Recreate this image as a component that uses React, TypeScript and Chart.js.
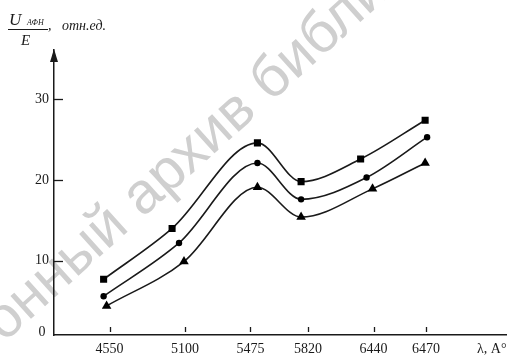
import React, { useEffect, useRef } from "react";
import { Chart, registerables } from "chart.js";

Chart.register(...registerables);

// Category tick labels (wavelengths, Å) and where each tick sits along the drawn axis
const categories = ["4550", "5100", "5475", "5820", "6440", "6470"];
const tickPositions = [5.6, 13.2, 19.8, 25.6, 32.2, 37.5];
const yTicks = [10, 20, 30];

// Series 1 (squares)
const squareX = [5.0, 11.9, 20.5, 24.9, 30.9, 37.4];
const squareY = [7.7, 14.0, 24.6, 19.8, 22.6, 27.4];
// Series 2 (circles)
const circleX = [5.0, 12.6, 20.5, 24.9, 31.5, 37.6];
const circleY = [5.6, 12.2, 22.1, 17.6, 20.3, 25.3];
// Series 3 (triangles)
const triangleX = [5.3, 13.1, 20.5, 24.9, 32.1, 37.4];
const triangleY = [4.4, 9.9, 19.1, 15.4, 18.9, 22.1];

const SERIF = "'Liberation Serif', 'DejaVu Serif', serif";
const INK = "#1a1a1a";

const pts = (xs: number[], ys: number[]) => xs.map((x, i) => ({ x, y: ys[i] }));

const decorations = {
  id: "decorations",
  beforeDraw(chart: any) {
    const ctx = chart.ctx as CanvasRenderingContext2D;
    // watermark
    ctx.save();
    ctx.fillStyle = "#cfcfcf";
    ctx.font = "58px 'Liberation Sans', Arial, sans-serif";
    ctx.translate(4, 343);
    ctx.rotate((-42 * Math.PI) / 180);
    const pre = "Электр";
    const off = ctx.measureText(pre).width;
    ctx.textBaseline = "alphabetic";
    ctx.fillText("Электронный архив библиотеки", -off, 0);
    ctx.restore();
  },
  afterDraw(chart: any) {
    const ctx = chart.ctx as CanvasRenderingContext2D;
    const { left, bottom } = chart.chartArea;
    const xs = chart.scales.x;
    const ys = chart.scales.y;
    ctx.save();
    ctx.strokeStyle = INK;
    ctx.fillStyle = INK;
    ctx.lineWidth = 1.3;
    // y tick marks (inside)
    yTicks.forEach((v) => {
      const y = Math.round(ys.getPixelForValue(v)) + 0.5;
      ctx.beginPath();
      ctx.moveTo(left, y);
      ctx.lineTo(left + 9, y);
      ctx.stroke();
    });
    // x tick marks (inside)
    tickPositions.forEach((v) => {
      const x = Math.round(xs.getPixelForValue(v)) + 0.5;
      ctx.beginPath();
      ctx.moveTo(x, bottom - 8);
      ctx.lineTo(x, bottom - 3);
      ctx.stroke();
    });
    // y-axis arrow head
    ctx.beginPath();
    ctx.moveTo(left, 49);
    ctx.lineTo(left - 4, 62);
    ctx.lineTo(left + 4, 62);
    ctx.closePath();
    ctx.fill();

    // origin label
    ctx.font = `14px ${SERIF}`;
    ctx.textAlign = "center";
    ctx.textBaseline = "middle";
    ctx.fillText("0", 42, 332);
    // x-axis title
    ctx.textAlign = "left";
    ctx.fillText("λ, A°", 477, 349);

    // y-axis title: U_АФН / E, отн.ед.
    ctx.textBaseline = "alphabetic";
    ctx.font = `italic 17px ${SERIF}`;
    ctx.fillText("U", 9, 25);
    ctx.font = `italic 8px ${SERIF}`;
    ctx.fillText("АФН", 27, 25);
    ctx.lineWidth = 1;
    ctx.beginPath();
    ctx.moveTo(8, 29.5);
    ctx.lineTo(48, 29.5);
    ctx.stroke();
    ctx.font = `italic 15px ${SERIF}`;
    ctx.fillText("E", 21, 45);
    ctx.font = `italic 14px ${SERIF}`;
    ctx.fillText(",", 48, 30);
    ctx.fillText("отн.ед.", 62, 30);
    ctx.restore();
  },
};

export default function App() {
  const ref = useRef<HTMLCanvasElement | null>(null);

  useEffect(() => {
    if (!ref.current) return;
    const common = {
      borderColor: INK,
      backgroundColor: "#000",
      borderWidth: 1.6,
      cubicInterpolationMode: "monotone" as const,
      pointBorderWidth: 0,
    };
    const chart = new Chart(ref.current, {
      type: "line",
      data: {
        datasets: [
          { ...common, label: "squares", data: pts(squareX, squareY), pointStyle: "rect", pointRadius: 5 },
          { ...common, label: "circles", data: pts(circleX, circleY), pointStyle: "circle", pointRadius: 3.2 },
          { ...common, label: "triangles", data: pts(triangleX, triangleY), pointStyle: "triangle", pointRadius: 5.5 },
        ],
      },
      options: {
        animation: false,
        responsive: true,
        maintainAspectRatio: false,
        layout: { padding: { top: 50, right: 2, left: 0, bottom: 0 } },
        plugins: { legend: { display: false }, tooltip: { enabled: false } },
        scales: {
          x: {
            type: "linear",
            min: 0,
            max: 45.6,
            afterBuildTicks: (s: any) => {
              s.ticks = tickPositions.map((v) => ({ value: v }));
            },
            afterFit: (s: any) => {
              s.height = 20;
            },
            grid: { display: false, drawTicks: false },
            border: { display: true, color: INK, width: 1.5 },
            ticks: {
              autoSkip: false,
              maxRotation: 0,
              padding: 6,
              color: INK,
              font: { family: SERIF, size: 14 },
              callback: (v: any) => {
                const i = tickPositions.indexOf(Number(v));
                return i >= 0 ? categories[i] : "";
              },
            },
          },
          y: {
            type: "linear",
            min: 0.8,
            max: 36.1,
            afterBuildTicks: (s: any) => {
              s.ticks = yTicks.map((v) => ({ value: v }));
            },
            afterFit: (s: any) => {
              s.width = 54;
            },
            grid: { display: false, drawTicks: false },
            border: { display: true, color: INK, width: 1.5 },
            ticks: {
              padding: 5,
              color: INK,
              font: { family: SERIF, size: 14 },
              callback: (v: any) => String(v),
            },
          },
        },
      },
      plugins: [decorations],
    } as any);
    return () => chart.destroy();
  }, []);

  return (
    <div style={{ position: "fixed", left: 0, top: 0, width: 512, height: 355, background: "#fff" }}>
      <canvas ref={ref} />
    </div>
  );
}
